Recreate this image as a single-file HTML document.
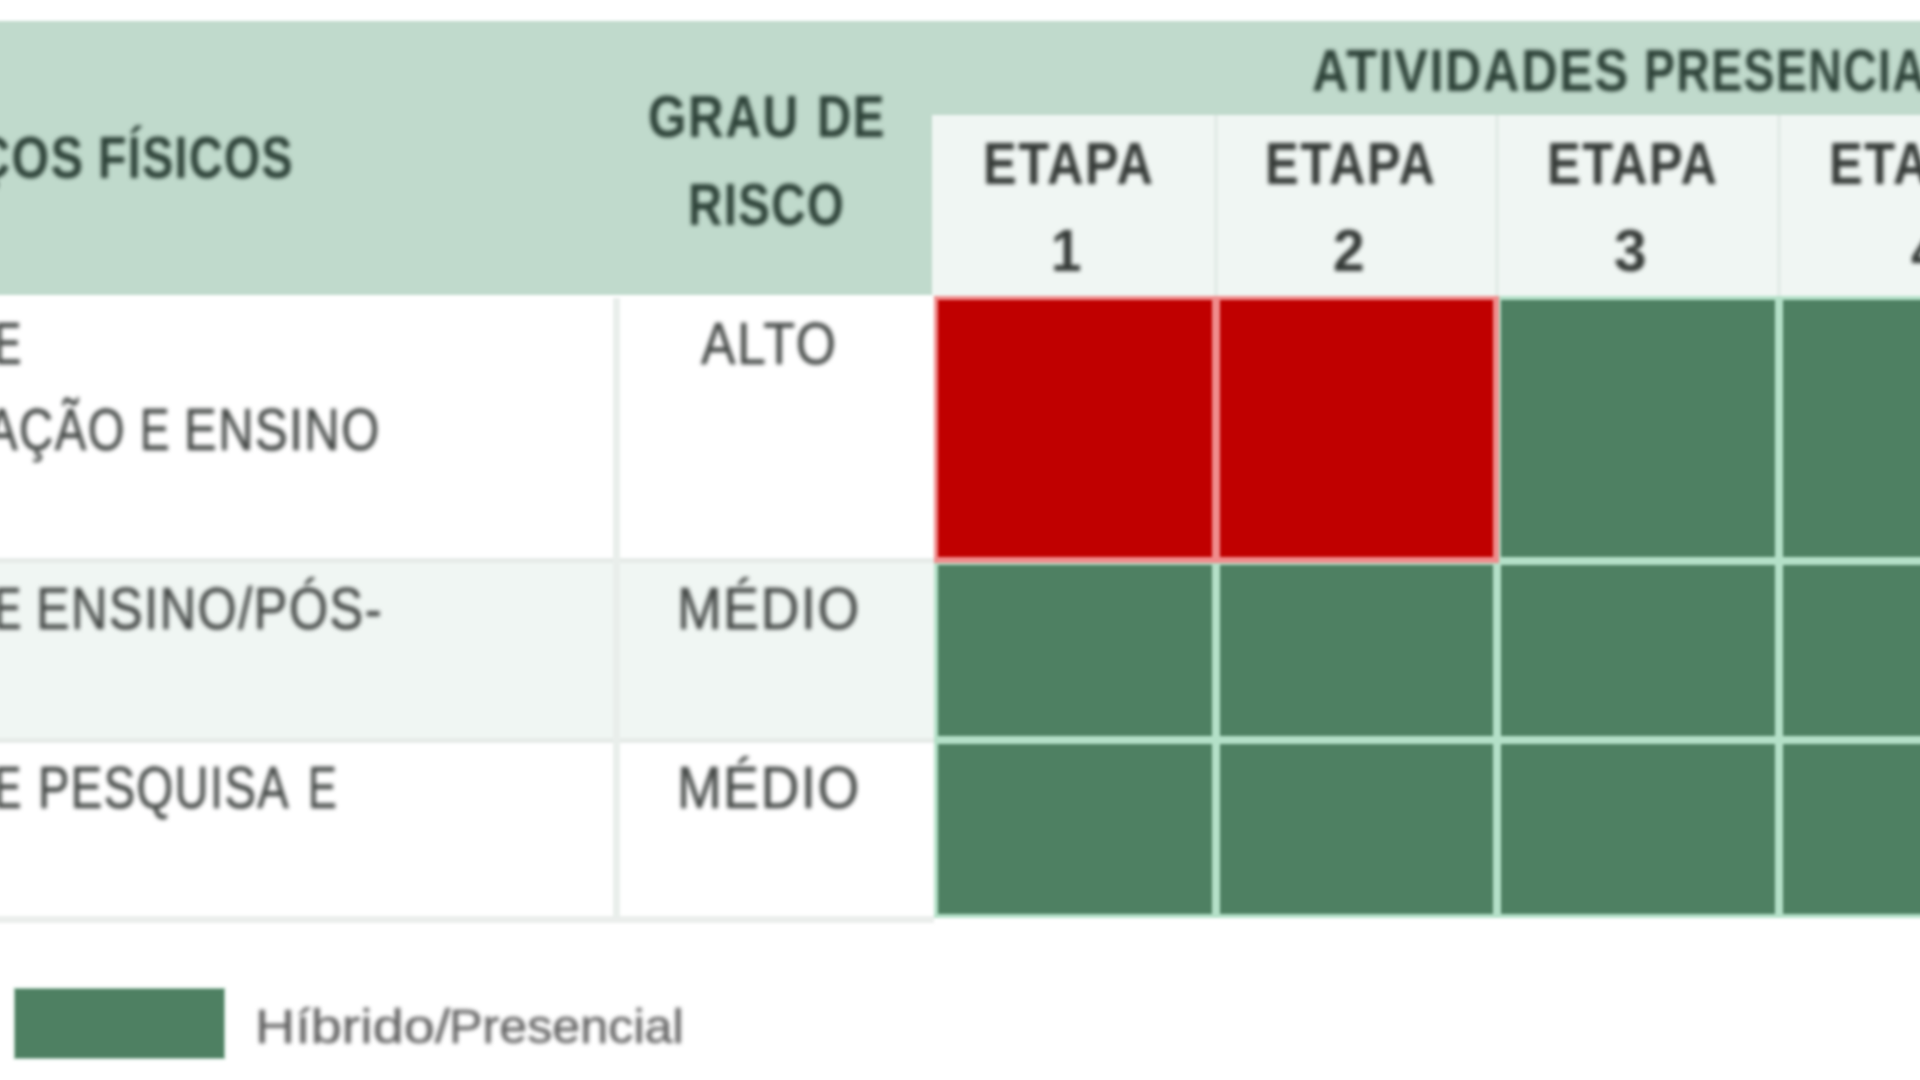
<!DOCTYPE html>
<html lang="pt-BR">
<head>
<meta charset="utf-8">
<title>Atividades presenciais por etapa</title>
<style>
html,body{margin:0;padding:0;background:#fff;overflow:hidden;}
body{width:1920px;height:1080px;font-family:"Liberation Sans",sans-serif;}
#stage{position:relative;width:1920px;height:1080px;overflow:hidden;background:#fff;}
#boxes,#labels{position:absolute;left:0;top:0;width:1920px;height:1080px;}
#boxes{filter:blur(1.6px);}
#labels{filter:blur(2.0px);}
.bx{position:absolute;}
.t{position:absolute;white-space:nowrap;line-height:1;transform-origin:0 0;display:block;}
.b{font-weight:bold;color:#2d4238;}
.e{color:#353a37;}
.r{font-weight:normal;color:#464a48;-webkit-text-stroke:0.6px #464a48;}
.l{font-weight:normal;color:#626262;-webkit-text-stroke:0.4px #626262;}
</style>
</head>
<body>
<div id="stage">
<div id="boxes">
<!-- header band -->
<div class="bx" style="left:-40px;top:20.7px;width:2000px;height:274.3px;background:#c0dacc;"></div>
<div class="bx" style="left:932px;top:115px;width:1028px;height:182px;background:#f0f6f3;"></div>
<div class="bx" style="left:1213.5px;top:115px;width:4px;height:181px;background:#e4ece8;"></div>
<div class="bx" style="left:1495px;top:115px;width:4px;height:181px;background:#e4ece8;"></div>
<div class="bx" style="left:1777px;top:115px;width:4px;height:181px;background:#e4ece8;"></div>
<!-- body rows -->
<div class="bx" style="left:-40px;top:295px;width:972px;height:265.5px;background:#ffffff;"></div>
<div class="bx" style="left:-40px;top:560.5px;width:974px;height:179.5px;background:#f0f6f3;"></div>
<div class="bx" style="left:-40px;top:740px;width:974px;height:178px;background:#ffffff;"></div>
<div class="bx" style="left:-40px;top:558px;width:974px;height:5px;background:#e6ebe8;"></div>
<div class="bx" style="left:-40px;top:737.5px;width:974px;height:5px;background:#e6ebe8;"></div>
<div class="bx" style="left:-40px;top:915.5px;width:974px;height:7px;background:#ebeeec;"></div>
<div class="bx" style="left:613px;top:298px;width:7px;height:620px;background:#e9eeeb;"></div>
<!-- stage cells -->
<div class="bx" style="left:934px;top:296px;width:281.5px;height:264.5px;background:#f08c8c;"></div>
<div class="bx" style="left:1215.5px;top:296px;width:281.5px;height:264.5px;background:#f08c8c;"></div>
<div class="bx" style="left:1497px;top:296px;width:282px;height:264.5px;background:#b4e0c8;"></div>
<div class="bx" style="left:1779px;top:296px;width:281.5px;height:264.5px;background:#b4e0c8;"></div>
<div class="bx" style="left:934px;top:560.5px;width:281.5px;height:179.5px;background:#b4e0c8;"></div>
<div class="bx" style="left:1215.5px;top:560.5px;width:281.5px;height:179.5px;background:#b4e0c8;"></div>
<div class="bx" style="left:1497px;top:560.5px;width:282px;height:179.5px;background:#b4e0c8;"></div>
<div class="bx" style="left:1779px;top:560.5px;width:281.5px;height:179.5px;background:#b4e0c8;"></div>
<div class="bx" style="left:934px;top:740px;width:281.5px;height:178px;background:#b4e0c8;"></div>
<div class="bx" style="left:1215.5px;top:740px;width:281.5px;height:178px;background:#b4e0c8;"></div>
<div class="bx" style="left:1497px;top:740px;width:282px;height:178px;background:#b4e0c8;"></div>
<div class="bx" style="left:1779px;top:740px;width:281.5px;height:178px;background:#b4e0c8;"></div>
<div class="bx" style="left:934px;top:296px;width:283.9px;height:266.9px;background:#f08c8c;"></div>
<div class="bx" style="left:1215.5px;top:296px;width:283.9px;height:266.9px;background:#f08c8c;"></div>
<div class="bx" style="left:938px;top:300px;width:273.5px;height:256.5px;background:#c00000;"></div>
<div class="bx" style="left:1219.5px;top:300px;width:273.5px;height:256.5px;background:#c00000;"></div>
<div class="bx" style="left:1501px;top:300px;width:274px;height:256.5px;background:#4e8062;"></div>
<div class="bx" style="left:1783px;top:300px;width:273.5px;height:256.5px;background:#4e8062;"></div>
<div class="bx" style="left:938px;top:564.5px;width:273.5px;height:171.5px;background:#4e8062;"></div>
<div class="bx" style="left:1219.5px;top:564.5px;width:273.5px;height:171.5px;background:#4e8062;"></div>
<div class="bx" style="left:1501px;top:564.5px;width:274px;height:171.5px;background:#4e8062;"></div>
<div class="bx" style="left:1783px;top:564.5px;width:273.5px;height:171.5px;background:#4e8062;"></div>
<div class="bx" style="left:938px;top:744px;width:273.5px;height:170px;background:#4e8062;"></div>
<div class="bx" style="left:1219.5px;top:744px;width:273.5px;height:170px;background:#4e8062;"></div>
<div class="bx" style="left:1501px;top:744px;width:274px;height:170px;background:#4e8062;"></div>
<div class="bx" style="left:1783px;top:744px;width:273.5px;height:170px;background:#4e8062;"></div>
<!-- legend -->
<div class="bx" style="left:15px;top:989px;width:209px;height:69px;background:#4e8062;box-shadow:0 0 0 1.5px #b9d6c6;"></div>
</div>
<div id="labels">
<span class="t b" style="left:-158.55px;top:127.60px;font-size:59.5px;letter-spacing:1.78px;transform:scaleX(0.8141)">ESPAÇOS</span>
<span class="t b" style="left:97.76px;top:127.60px;font-size:59.5px;letter-spacing:1.78px;transform:scaleX(0.7826)">FÍSICOS</span>
<span class="t b" style="left:648.04px;top:87.10px;font-size:59.5px;letter-spacing:1.78px;transform:scaleX(0.8318)">GRAU</span>
<span class="t b" style="left:817.18px;top:87.10px;font-size:59.5px;letter-spacing:1.78px;transform:scaleX(0.7993)">DE</span>
<span class="t b" style="left:688.19px;top:174.90px;font-size:59.5px;letter-spacing:1.78px;transform:scaleX(0.7967)">RISCO</span>
<span class="t b" style="left:1312.00px;top:41.20px;font-size:59.5px;letter-spacing:1.78px;transform:scaleX(0.8500)">ATIVIDADES</span>
<span class="t b" style="left:1643.77px;top:41.20px;font-size:59.5px;letter-spacing:1.78px;transform:scaleX(0.7800)">PRESENCIAIS</span>
<span class="t b e" style="left:982.50px;top:133.90px;font-size:59.5px;letter-spacing:1.78px;transform:scaleX(0.8500)">ETAPA</span>
<span class="t b e" style="left:1050.75px;top:221.30px;font-size:59.5px;letter-spacing:1.78px;transform:scaleX(0.9208)">1</span>
<span class="t b e" style="left:1265.00px;top:133.90px;font-size:59.5px;letter-spacing:1.78px;transform:scaleX(0.8500)">ETAPA</span>
<span class="t b e" style="left:1332.75px;top:221.30px;font-size:59.5px;letter-spacing:1.78px;transform:scaleX(0.9572)">2</span>
<span class="t b e" style="left:1546.50px;top:133.90px;font-size:59.5px;letter-spacing:1.78px;transform:scaleX(0.8500)">ETAPA</span>
<span class="t b e" style="left:1613.84px;top:221.30px;font-size:59.5px;letter-spacing:1.78px;transform:scaleX(0.9871)">3</span>
<span class="t b e" style="left:1828.50px;top:133.90px;font-size:59.5px;letter-spacing:1.78px;transform:scaleX(0.8500)">ETAPA</span>
<span class="t b e" style="left:1911.34px;top:221.30px;font-size:59.5px;letter-spacing:1.78px;transform:scaleX(0.9871)">4</span>
<span class="t r" style="left:-5.72px;top:313.50px;font-size:59.5px;letter-spacing:1.78px;transform:scaleX(0.6900)">E</span>
<span class="t r" style="left:-14.27px;top:400.10px;font-size:59.5px;letter-spacing:1.78px;transform:scaleX(0.7971)">AÇÃO</span>
<span class="t r" style="left:140.41px;top:400.10px;font-size:59.5px;letter-spacing:1.78px;transform:scaleX(0.7474)">E</span>
<span class="t r" style="left:184.21px;top:400.10px;font-size:59.5px;letter-spacing:1.78px;transform:scaleX(0.8240)">ENSINO</span>
<span class="t r" style="left:701.49px;top:313.50px;font-size:59.5px;letter-spacing:1.78px;transform:scaleX(0.8696)">ALTO</span>
<span class="t r" style="left:-5.72px;top:579.30px;font-size:59.5px;letter-spacing:1.78px;transform:scaleX(0.6900)">E</span>
<span class="t r" style="left:36.41px;top:579.30px;font-size:59.5px;letter-spacing:1.78px;transform:scaleX(0.8470)">ENSINO/PÓS-</span>
<span class="t r" style="left:677.23px;top:579.30px;font-size:59.5px;letter-spacing:1.78px;transform:scaleX(0.9012)">MÉDIO</span>
<span class="t r" style="left:-5.72px;top:758.40px;font-size:59.5px;letter-spacing:1.78px;transform:scaleX(0.6900)">E</span>
<span class="t r" style="left:38.36px;top:758.40px;font-size:59.5px;letter-spacing:1.78px;transform:scaleX(0.7919)">PESQUISA</span>
<span class="t r" style="left:307.64px;top:758.40px;font-size:59.5px;letter-spacing:1.78px;transform:scaleX(0.7267)">E</span>
<span class="t r" style="left:677.23px;top:758.40px;font-size:59.5px;letter-spacing:1.78px;transform:scaleX(0.9012)">MÉDIO</span>
<span class="t l" style="left:255.27px;top:1002.41px;font-size:48.5px;letter-spacing:0.00px;transform:scaleX(1.1493)">Híbrido/</span><span class="t l" style="left:449.34px;top:1002.41px;font-size:48.5px;letter-spacing:0.00px;transform:scaleX(1.0364)">Presencial</span>
</div>
</div>
</body>
</html>
